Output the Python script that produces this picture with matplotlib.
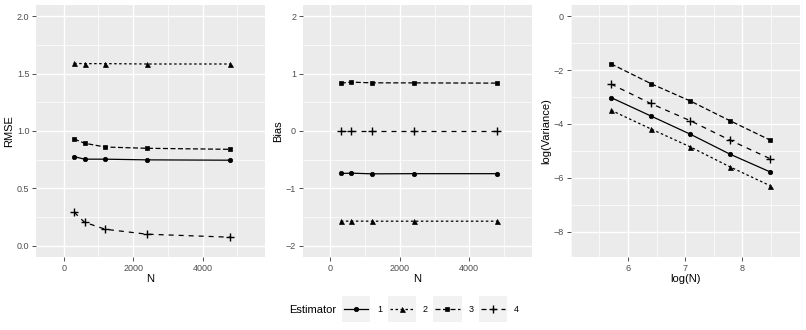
import numpy as np
import matplotlib
matplotlib.use("Agg")
import matplotlib.pyplot as plt
from matplotlib.lines import Line2D
from matplotlib.patches import Rectangle
from matplotlib.legend_handler import HandlerLine2D
from matplotlib.ticker import MultipleLocator

plt.rcParams['font.family'] = ['Liberation Sans', 'DejaVu Sans']

# data
n_values = [300, 600, 1200, 2400, 4800]
estimators = ['1', '2', '3', '4']

rmse_1 = [0.776, 0.754, 0.754, 0.748, 0.745]
rmse_2 = [1.590, 1.588, 1.588, 1.585, 1.585]
rmse_3 = [0.930, 0.893, 0.860, 0.849, 0.840]
rmse_4 = [0.291, 0.203, 0.142, 0.099, 0.073]

bias_1 = [-0.742, -0.736, -0.748, -0.745, -0.745]
bias_2 = [-1.575, -1.573, -1.575, -1.575, -1.575]
bias_3 = [0.836, 0.853, 0.841, 0.840, 0.836]
bias_4 = [0.0, 0.0, 0.0, 0.0, 0.0]

logvar_1 = [-3.02, -3.70, -4.38, -5.12, -5.77]
logvar_2 = [-3.49, -4.18, -4.85, -5.59, -6.28]
logvar_3 = [-1.77, -2.50, -3.15, -3.88, -4.59]
logvar_4 = [-2.52, -3.24, -3.88, -4.60, -5.28]

rmse = [rmse_1, rmse_2, rmse_3, rmse_4]
bias = [bias_1, bias_2, bias_3, bias_4]
logvar = [logvar_1, logvar_2, logvar_3, logvar_4]
log_n = np.log(n_values)

# ggplot-like styles: solid, 22, 42, 44
markers = ['o', '^', 's', '+']
msizes = [3.2, 3.6, 3.2, 5.4]
dashes = ['-', (0, (2, 2)), (0, (4, 2)), (0, (4, 4))]

PANEL_BG = '#EBEBEB'
TICK_COL = '#4D4D4D'

fig = plt.figure(figsize=(8.06, 3.30), dpi=100)

bottom = 1 - 257 / 330
height = (257 - 5) / 330
lefts = [36 / 806, 302.7 / 806, 570.7 / 806]
width = 229 / 806


def style_axes(ax, xmajor, xminor, ymajor, yminor):
    ax.set_facecolor(PANEL_BG)
    for s in ax.spines.values():
        s.set_visible(False)
    ax.xaxis.set_major_locator(MultipleLocator(xmajor))
    ax.xaxis.set_minor_locator(MultipleLocator(xminor))
    ax.yaxis.set_major_locator(MultipleLocator(ymajor))
    ax.yaxis.set_minor_locator(MultipleLocator(yminor))
    ax.grid(which='major', color='white', lw=1.0)
    ax.grid(which='minor', color='white', lw=0.5)
    ax.set_axisbelow(True)
    ax.tick_params(which='major', length=2.75, width=0.6, color='#333333',
                   labelsize=6.5, labelcolor=TICK_COL, pad=2)
    ax.tick_params(which='minor', length=0)


def draw(ax, x, series):
    for i, ys in enumerate(series):
        ax.plot(x, ys, color='black', lw=0.9, ls=dashes[i],
                marker=markers[i], ms=msizes[i], mew=1.0 if markers[i] == '+' else 0.5)


ax1 = fig.add_axes([lefts[0], bottom, width, height])
draw(ax1, n_values, rmse)
style_axes(ax1, 2000, 1000, 0.5, 0.25)
ax1.set_xlim(-800, 5800)
ax1.set_ylim(-0.1, 2.1)
ax1.set_xlabel('N', fontsize=8, labelpad=1)
ax1.set_ylabel('RMSE', fontsize=8, labelpad=2)

ax2 = fig.add_axes([lefts[1], bottom, width, height])
draw(ax2, n_values, bias)
style_axes(ax2, 2000, 1000, 1, 0.5)
ax2.set_xlim(-800, 5800)
ax2.set_ylim(-2.2, 2.2)
ax2.set_xlabel('N', fontsize=8, labelpad=1)
ax2.set_ylabel('Bias', fontsize=8, labelpad=2)

ax3 = fig.add_axes([lefts[2], bottom, width, height])
draw(ax3, log_n, logvar)
style_axes(ax3, 1, 0.5, 2, 1)
ax3.set_xlim(5.0, 9.0)
ax3.set_ylim(-8.93, 0.41)
ax3.set_xticks([6, 7, 8])
ax3.set_xlabel('log(N)', fontsize=8, labelpad=1)
ax3.set_ylabel('log(Variance)', fontsize=8, labelpad=2)


class KeyHandler(HandlerLine2D):
    def create_artists(self, legend, orig_handle, xdescent, ydescent,
                       width, height, fontsize, trans):
        arts = super().create_artists(legend, orig_handle, xdescent, ydescent,
                                      width, height, fontsize, trans)
        cy = -ydescent + height / 2
        rect = Rectangle((-xdescent - 1.5, cy - 9.4), width + 3, 18.8,
                         facecolor='#F2F2F2', edgecolor='none', transform=trans)
        return [rect] + list(arts)


handles = [Line2D([], [], color='black', lw=0.9, ls=dashes[i], marker=markers[i],
                  ms=msizes[i], mew=1.0 if markers[i] == '+' else 0.5)
           for i in range(4)]
fig.legend(handles, estimators, loc='center left',
           bbox_to_anchor=(344 / 806, 1 - 310 / 330), ncol=4, frameon=False,
           fontsize=6.5, handlelength=2.7, handletextpad=1.0, columnspacing=0.8,
           borderpad=0, borderaxespad=0,
           handler_map={Line2D: KeyHandler(numpoints=1)})
fig.text(289 / 806, 1 - 310 / 330, 'Estimator', fontsize=8, va='center', ha='left')

fig.savefig('out.png', dpi=100)
